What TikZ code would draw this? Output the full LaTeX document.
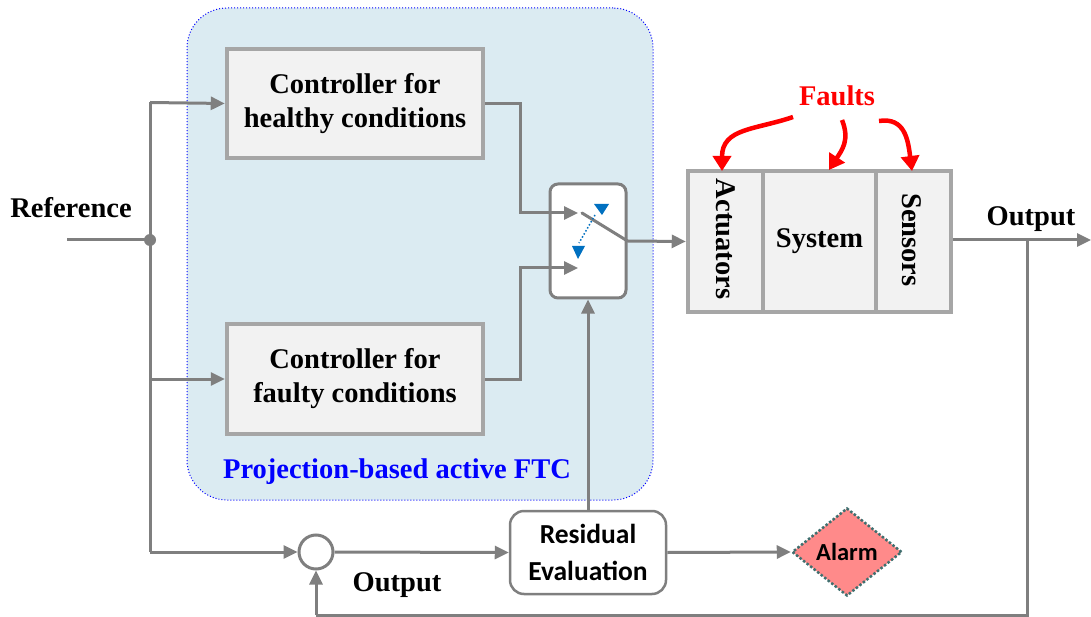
\documentclass[tikz,border=0pt]{standalone}
\usepackage{fontspec}
\setmainfont{Liberation Serif}
\newfontfamily\calfont{Carlito}
\usetikzlibrary{arrows.meta,shapes.geometric}
\definecolor{lgray}{HTML}{7F7F7F}
\definecolor{bgray}{HTML}{A6A6A6}
\definecolor{boxfill}{HTML}{F2F2F2}
\definecolor{ftcfill}{HTML}{DBEBF2}
\definecolor{ftcblue}{HTML}{0000FF}
\definecolor{swblue}{HTML}{0070C0}
\definecolor{alarmfill}{HTML}{FF8A8A}
\definecolor{alarmdot}{HTML}{3F6F6F}
\tikzset{
  conn/.style={draw=lgray, line width=3pt},
  arr/.style={conn, -{Triangle[length=14pt,width=13pt]}},
  ctrlbox/.style={draw=bgray, fill=boxfill, line width=4.5pt, inner sep=0pt, align=center,
     font=\fontsize{28.5}{34}\selectfont\bfseries},
  lbl/.style={font=\fontsize{28.5}{34}\selectfont\bfseries},
  fault/.style={draw=red, line width=4.5pt, -{Triangle[length=15pt,width=18pt]}},
}
\begin{document}
\begin{tikzpicture}[x=1pt,y=-1pt]
\useasboundingbox (0,0) rectangle (1091,617);
% FTC region
\node[draw=ftcblue, dotted, line width=1pt, fill=ftcfill, rounded corners=40pt,
      minimum width=466pt, minimum height=492pt, inner sep=0pt] (ftc) at (420,254) {};
\node[font=\fontsize{28.5}{34}\selectfont\bfseries, text=ftcblue] (ftclbl) at (397,472) {Projection-based active FTC};
% controllers
\node[ctrlbox, minimum width=256pt, minimum height=109pt] (hc) at (355,103.5) {Controller for\\healthy conditions};
\node[ctrlbox, minimum width=256pt, minimum height=110pt] (fc) at (355,379) {Controller for\\faulty conditions};
% switch
\node[draw=lgray, fill=white, line width=3pt, rounded corners=8pt, minimum width=76pt, minimum height=114pt, inner sep=0pt] (sw) at (588,241) {};
\coordinate (swin1) at (578,213);
\coordinate (swin2) at (578,268);
\coordinate (blade) at (582,213);
% plant
\node[ctrlbox, minimum width=75pt, minimum height=141pt] (act) at (725.5,241.5) {};
\node[ctrlbox, minimum width=113pt, minimum height=141pt] (sys) at (819.5,241.5) {System};
\node[ctrlbox, minimum width=75pt, minimum height=141pt] (sen) at (913.5,241.5) {};
\node[lbl, rotate=-90] (actl) at (726,239) {Actuators};
\node[lbl, rotate=-90] (senl) at (912,240) {Sensors};
% faults
\node[font=\fontsize{28.5}{34}\selectfont\bfseries, text=red] (faults) at (837,96) {Faults};
\coordinate (f1) at (793,117);
\coordinate (f2) at (842,120);
\coordinate (f3) at (879,121);
\draw[fault] (f1) .. controls (755,130) and (722,128) .. (722,171);
\draw[fault] (f2) .. controls (850,140) and (842,150) .. (829,170);
\draw[fault] (f3) .. controls (905,117) and (908,140) .. (912,171);
% reference
\node[lbl] (refl) at (71,208) {Reference};
\coordinate (refin) at (67,240);
\coordinate (junc) at (150,240);
\coordinate (jtop) at (150,102.5);
\coordinate (jbot) at (150,552);
\draw[conn] (refin) -- (junc);
\draw[conn] (jtop) -- (jbot);
\fill[lgray] (junc) circle (6pt);
\draw[arr] (jtop) -- (hc.west);
\draw[arr] (150,379) -- (fc.west);
% sum and residual
\node[draw=lgray, fill=white, line width=3pt, circle, minimum size=34pt, inner sep=0pt] (sum) at (316,552) {};
\node[draw=lgray, fill=white, line width=2.5pt, rounded corners=14pt, minimum width=156pt, minimum height=83pt,
      inner sep=0pt, align=center, font=\calfont\fontsize{27.5}{37}\selectfont\bfseries] (res) at (588,552.5) {Residual\\Evaluation};
\node[diamond, draw=alarmdot, dotted, line width=2.5pt, fill=alarmfill, minimum width=110pt, minimum height=88pt,
      inner sep=0pt, font=\calfont\fontsize{24.5}{28}\selectfont\bfseries] (alarm) at (847,552) {Alarm};
\draw[arr] (jbot) -- (sum.west);
\draw[arr] (sum.east) -- (res.west);
\draw[arr] (res.east) -- (alarm.west);
\draw[arr] (res.north) -- (sw.south);
% controller outputs to switch
\draw[arr] (hc.east) -| (520,213) -- (swin1);
\draw[arr] (fc.east) -| (520,268) -- (swin2);
\draw[line width=3pt, draw=lgray, line cap=round] (blade) -- (sw.east);
\draw[arr] (sw.east) -- (act.west);
% switch indicator
\draw[swblue, dotted, line width=1.5pt] (595,215) -- (579,243);
\fill[swblue] (594,204) -- (609,204) -- (602,215) -- cycle;
\fill[swblue] (572,246) -- (585,246) -- (578,259) -- cycle;
% output
\coordinate (outend) at (1091,240);
\coordinate (tap) at (1027,240);
\coordinate (tapbot) at (1027,615);
\coordinate (sumbot) at (316,615);
\draw[arr] (sen.east |- tap) -- (outend);
\node[lbl] (outl) at (1031,219) {Output};
\draw[conn] (tap) -- (tapbot) -- (sumbot);
\draw[arr] (sumbot) -- (sum.south);
\node[lbl] (outl2) at (397,585) {Output};
\end{tikzpicture}
\end{document}
